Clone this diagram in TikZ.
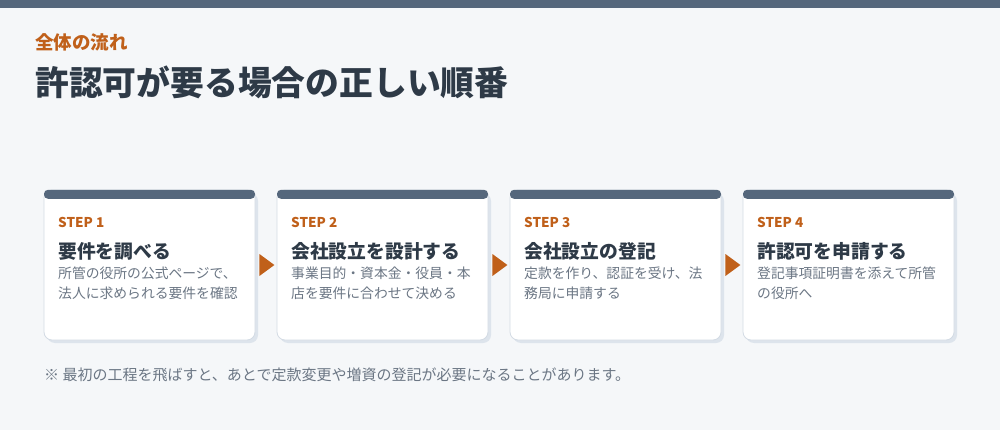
\documentclass[tikz,border=0pt]{standalone}
\usepackage{fontspec}
\setmainfont{Noto Sans CJK JP}
\usepackage{xcolor}
\usepackage{tikz}
\usetikzlibrary{positioning,calc}

\definecolor{pagebg}{HTML}{F5F7F9}
\definecolor{barblue}{HTML}{55677C}
\definecolor{steporange}{HTML}{C0601A}
\definecolor{inkdark}{HTML}{2E3A47}
\definecolor{notegray}{HTML}{6B7684}
\definecolor{cardline}{HTML}{D3DBE4}
\definecolor{shadowgray}{HTML}{DDE4EC}

\tikzset{
  card/.style={draw=cardline, line width=0.8pt, fill=white, rounded corners=8pt,
    minimum width=211pt, minimum height=150pt, inner sep=0pt},
  cardshadow/.style={fill=shadowgray, rounded corners=8pt,
    minimum width=211pt, minimum height=150pt, inner sep=0pt},
  cardbar/.style={fill=barblue, rounded corners=4pt,
    minimum width=211pt, minimum height=9pt, inner sep=0pt},
  steplabel/.style={anchor=west, inner sep=0pt, text=steporange,
    font=\fontsize{13.5}{15}\selectfont\bfseries},
  steptitle/.style={anchor=west, inner sep=0pt, text=inkdark,
    font=\fontsize{18.8}{22}\selectfont\bfseries},
  stepnote/.style={anchor=north west, inner sep=0pt, text=notegray, align=left,
    font=\fontsize{13.8}{20}\selectfont},
  stepmark/.style={fill=steporange},
}

\begin{document}
\begin{tikzpicture}[x=1pt,y=-1pt]
\useasboundingbox (0,0) rectangle (1000,430);
\fill[pagebg] (0,0) rectangle (1000,430);
\fill[barblue] (0,0) rectangle (1000,8);

% heading
\node[anchor=west, inner sep=0pt, text=steporange, font=\fontsize{18.5}{22}\selectfont\bfseries] (kicker) at (35,42) {全体の流れ};
\node[anchor=west, inner sep=0pt, text=inkdark, font=\fontsize{33.8}{40}\selectfont\bfseries] (headline) at (35,82) {許認可が要る場合の正しい順番};

% cards
\node[cardshadow] (shadow1) at (152.5,268) {};
\node[cardshadow] (shadow2) at (385.5,268) {};
\node[cardshadow] (shadow3) at (618.5,268) {};
\node[cardshadow] (shadow4) at (851.5,268) {};
\node[card] (card1) at (149.5,265) {};
\node[card] (card2) at (382.5,265) {};
\node[card] (card3) at (615.5,265) {};
\node[card] (card4) at (848.5,265) {};
\node[cardbar, anchor=north] (bar1) at (card1.north) {};
\node[cardbar, anchor=north] (bar2) at (card2.north) {};
\node[cardbar, anchor=north] (bar3) at (card3.north) {};
\node[cardbar, anchor=north] (bar4) at (card4.north) {};

% step 1
\node[steplabel] (step1) at (58,222) {STEP 1};
\node[steptitle] (title1) at (58,251) {要件を調べる};
\node[stepnote] (note1) at (58,267) {所管の役所の公式ページで、\\法人に求められる要件を確認};
% step 2
\node[steplabel] (step2) at (291,222) {STEP 2};
\node[steptitle] (title2) at (291,251) {会社設立を設計する};
\node[stepnote] (note2) at (291,267) {事業目的・資本金・役員・本\\店を要件に合わせて決める};
% step 3
\node[steplabel] (step3) at (524,222) {STEP 3};
\node[steptitle] (title3) at (524,251) {会社設立の登記};
\node[stepnote] (note3) at (524,267) {定款を作り、認証を受け、法\\務局に申請する};
% step 4
\node[steplabel] (step4) at (757,222) {STEP 4};
\node[steptitle] (title4) at (757,251) {許認可を申請する};
\node[stepnote] (note4) at (757,267) {登記事項証明書を添えて所管\\の役所へ};

% arrows between cards
\fill[stepmark] ($(card1.east)+(4,-11)$) -- ($(card1.east)+(19,0)$) -- ($(card1.east)+(4,11)$) -- cycle;
\fill[stepmark] ($(card2.east)+(4,-11)$) -- ($(card2.east)+(19,0)$) -- ($(card2.east)+(4,11)$) -- cycle;
\fill[stepmark] ($(card3.east)+(4,-11)$) -- ($(card3.east)+(19,0)$) -- ($(card3.east)+(4,11)$) -- cycle;

% footnote
\node[anchor=west, inner sep=0pt, text=notegray, font=\fontsize{15}{18}\selectfont] (footnote) at (44,375) {※ 最初の工程を飛ばすと、あとで定款変更や増資の登記が必要になることがあります。};
\end{tikzpicture}
\end{document}
